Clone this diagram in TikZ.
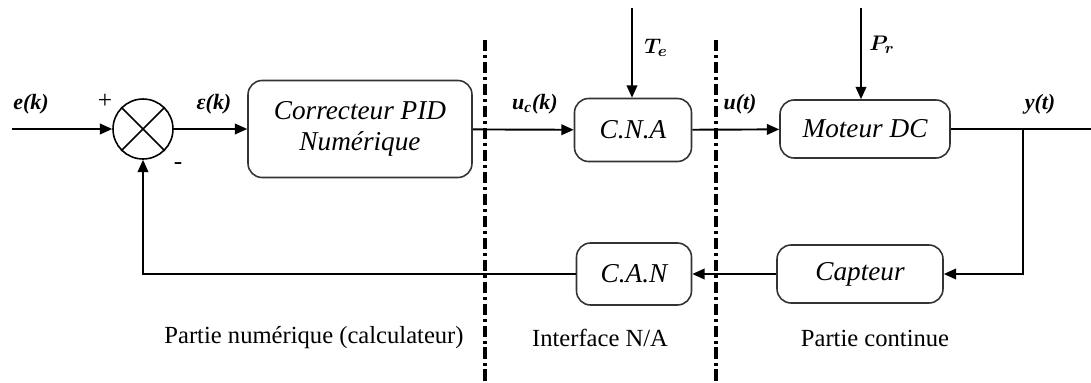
\documentclass[tikz,border=0pt]{standalone}
\usepackage{amsmath}
\usepackage{fontspec}
\setmainfont{Liberation Serif}
\usepackage{tikz}
\usetikzlibrary{arrows.meta}
\tikzset{
  bloc/.style={draw=black!80, line width=0.9pt, rounded corners=8pt, font=\fontsize{15.5}{18}\selectfont\itshape, align=center, inner sep=0pt},
  fleche/.style={line width=1.1pt, -{Triangle[length=7pt,width=6pt]}},
  trait/.style={line width=1.1pt},
  sep/.style={line width=1.9pt, dash pattern=on 6.5pt off 2.2pt on 1.6pt off 2.2pt},
  lab/.style={font=\fontsize{12.5}{14}\selectfont\bfseries\itshape},
  zone/.style={font=\fontsize{14}{16}\selectfont}
}
\begin{document}
\begin{tikzpicture}[x=0.02cm, y=-0.02cm]

\useasboundingbox (0,0) rectangle (1091,382);

% separations
\foreach \x in {485,716} {\draw [sep] (\x,40) -- (\x,382);}

% blocs
\node [draw, line width=0.9pt, circle, minimum size=1.2cm, inner sep=0pt] (sum) at (143,129) {};
\draw [line width=0.9pt] (sum.north west) -- (sum.south east) (sum.north east) -- (sum.south west);
\node [bloc, minimum width=4.48cm, minimum height=1.94cm] (pid) at (360,129) {Correcteur PID\\Numérique};
\node [bloc, minimum width=2.34cm, minimum height=1.26cm] (cna) at (633,130) {C.N.A};
\node [bloc, minimum width=3.4cm, minimum height=1.16cm] (mot) at (865,129) {Moteur DC};
\node [bloc, minimum width=3.32cm, minimum height=1.16cm] (cap) at (860,274) {Capteur};
\node [bloc, minimum width=2.3cm, minimum height=1.24cm] (can) at (634,274) {C.A.N};

\coordinate (in) at (12,129);
\coordinate (out) at (1091,129);
\coordinate (br) at (1023,129);
\coordinate (te) at (632,8);
\coordinate (pr) at (861,8);

% liaisons
\draw [fleche] (in) -- (sum);
\draw [fleche] (sum) -- (pid);
\draw [fleche] (pid) -- (cna);
\draw [fleche] (cna) -- (mot);
\draw [trait] (mot) -- (out);
\draw [fleche] (br) |- (cap);
\draw [fleche] (cap) -- (can);
\draw [fleche] (can) -| (sum);
\draw [fleche] (te) -- (te |- cna.north);
\draw [fleche] (pr) -- (pr |- mot.north);

% etiquettes
\node [lab] (ek) at (31,104) {e(k)};
\node [lab] (epsk) at (214,104) {ε(k)};
\node [font=\Large] (plus) at (105,101) {+};
\node [font=\Large] (moins) at (178,166) {-};
\node [lab] (uck) at (535,104) {u\textsubscript{c}(k)};
\node [lab] (ut) at (740,104) {u(t)};
\node [lab] (yt) at (1040,104) {y(t)};
\node [font=\fontsize{13}{15}\selectfont] (tel) at (656,48) {$\boldsymbol{T_e}$};
\node [font=\fontsize{13}{15}\selectfont] (prl) at (882,45) {$\boldsymbol{P_r}$};

\node [zone] (znum) at (314,338) {Partie numérique (calculateur)};
\node [zone] (zint) at (600,338) {Interface N/A};
\node [zone] (zcont) at (875,338) {Partie continue};

\end{tikzpicture}
\end{document}
